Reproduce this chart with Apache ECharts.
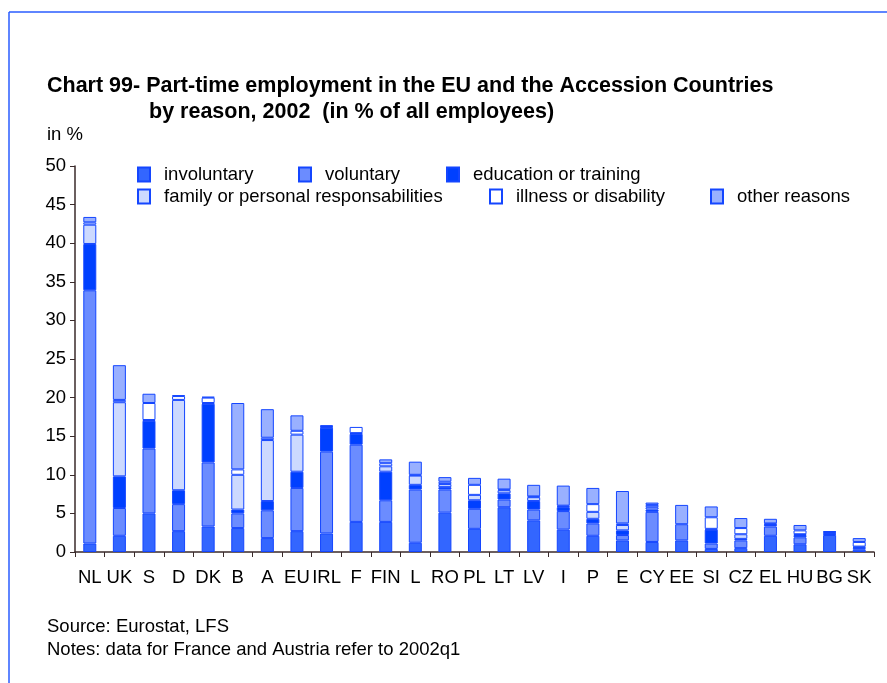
<!DOCTYPE html>
<html>
<head>
<meta charset="utf-8">
<script src="https://cdn.jsdelivr.net/npm/echarts@6/dist/echarts.min.js"></script>
<style>
html,body{margin:0;padding:0;background:#fff;}
#chart{position:absolute;left:0;top:0;width:887px;height:683px;}
</style>
</head>
<body>
<div id="chart"></div>
<script>
const categories = ['NL','UK','S','D','DK','B','A','EU','IRL','F','FIN','L','RO','PL','LT','LV','I','P','E','CY','EE','SI','CZ','EL','HU','BG','SK'];
const involuntary = [1.1,2.1,5.0,2.7,3.3,3.1,1.8,2.7,2.4,3.9,3.9,1.2,5.1,3.0,5.8,4.1,2.9,2.1,1.5,1.3,1.5,0.4,0.5,2.1,1.0,2.2,0.3];
const voluntary = [32.8,3.6,8.4,3.5,8.3,1.9,3.6,5.6,10.6,10.0,2.8,6.9,3.0,2.6,1.0,1.4,2.4,1.6,0.7,3.9,2.1,0.7,1.0,1.2,0.9,0.1,0.2];
const education = [6.0,4.1,3.6,1.8,7.6,0.5,1.2,2.1,3.1,1.4,3.7,0.6,0.3,1.1,0.8,1.1,0.5,0.6,0.6,0.3,null,1.8,0.2,0.2,0.3,0.1,0.1];
const family = [2.5,9.6,0.1,11.7,0.1,4.5,7.9,4.8,0.1,0.1,0.7,1.2,0.4,0.7,0.4,0.5,0.1,0.9,0.7,0.3,null,0.1,0.6,0.1,0.1,0.1,0.1];
const illness = [0.3,0.3,2.2,0.5,0.7,0.7,0.3,0.5,0.1,0.8,0.4,0.1,0.3,1.3,0.1,0.1,0.1,1.0,0.2,0.3,null,1.5,0.8,0.1,0.5,0.1,0.6];
const other = [0.7,4.5,1.2,0.1,0.1,8.6,3.7,2.0,0.1,null,0.5,1.7,0.6,0.9,1.4,1.5,2.6,2.1,4.2,0.3,2.5,1.4,1.3,0.6,0.7,0.1,0.5];
const yTicks = [0,5,10,15,20,25,30,35,40,45,50];

const FONT = "'Liberation Sans',Arial,sans-serif";
const seriesDefs = [
  ['involuntary', involuntary, '#3366ff'],
  ['voluntary', voluntary, '#6b8cff'],
  ['education or training', education, '#0040ff'],
  ['family or personal responsabilities', family, '#ccd9ff'],
  ['illness or disability', illness, '#ffffff'],
  ['other reasons', other, '#99b0ff']
];
const legendPos = [[137,165],[298,165],[446,165],[137,187],[489,187],[710,187]];
const txt = {fontFamily:FONT, fontSize:18.5, fontWeight:'normal', color:'#000'};

const chart = echarts.init(document.getElementById('chart'), null, {renderer:'canvas'});
chart.setOption({
  backgroundColor: '#fff',
  animation: false,
  graphic: [
    {type:'line', silent:true, shape:{x1:9, y1:12, x2:887, y2:12}, style:{stroke:'#2a5cff', lineWidth:1.5}},
    {type:'line', silent:true, shape:{x1:9, y1:12, x2:9, y2:683}, style:{stroke:'#2a5cff', lineWidth:1.5}}
  ],
  title: [
    {text:'Chart 99- Part-time employment in the EU and the Accession Countries', left:47, top:75, padding:0,
     textStyle:{fontFamily:FONT, fontSize:21.5, fontWeight:'bold', color:'#000'}},
    {text:'by reason, 2002  (in % of all employees)', left:149, top:101, padding:0,
     textStyle:{fontFamily:FONT, fontSize:21.5, fontWeight:'bold', color:'#000'}},
    {text:'in %', left:47, top:125, padding:0, textStyle:txt},
    {text:'Source: Eurostat, LFS', left:47, top:617, padding:0, textStyle:txt},
    {text:'Notes: data for France and Austria refer to 2002q1', left:47, top:640, padding:0, textStyle:txt}
  ],
  legend: seriesDefs.map((s,i)=>({
    data:[s[0]], left:legendPos[i][0], top:legendPos[i][1], padding:0,
    itemWidth:12, itemHeight:14, icon:'rect', selectedMode:false,
    textStyle:{fontFamily:FONT, fontSize:18.5, color:'#000', padding:[0,0,0,9]}
  })),
  grid: {left:75, right:13, top:166, bottom:131, containLabel:false},
  xAxis: {
    type:'category', data:categories,
    axisLine:{lineStyle:{color:'#3a2a2a', width:1.5}},
    axisTick:{show:true, length:5, lineStyle:{color:'#3a2a2a'}},
    axisLabel:{fontFamily:FONT, fontSize:18.5, color:'#000', margin:16, interval:0}
  },
  yAxis: {
    type:'value', min:0, max:50, interval:5,
    axisLine:{show:true, lineStyle:{color:'#3a2a2a', width:1.5}},
    axisTick:{show:true, length:5, lineStyle:{color:'#3a2a2a'}},
    splitLine:{show:false},
    axisLabel:{fontFamily:FONT, fontSize:18.5, color:'#000', margin:9,
      formatter: v => yTicks.includes(v) ? String(v) : ''}
  },
  series: seriesDefs.map(s=>({
    name:s[0], type:'bar', stack:'total', data:s[1], barWidth:13,
    itemStyle:{color:s[2], borderColor:'#1446ff', borderWidth:1}
  }))
});
</script>
</body>
</html>
